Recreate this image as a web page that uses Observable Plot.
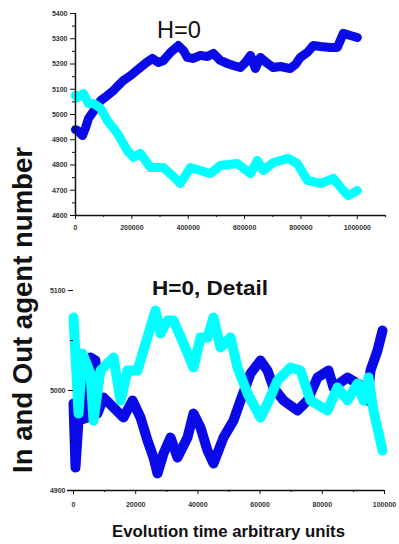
<!DOCTYPE html>
<html><head><meta charset="utf-8">
<script src="https://cdn.jsdelivr.net/npm/d3@7"></script>
<script src="https://cdn.jsdelivr.net/npm/@observablehq/plot@0.6"></script>
<style>
body{margin:0;background:#fff;font-family:"Liberation Sans",Arial,sans-serif}
#wrap{position:relative;width:399px;height:544px;overflow:hidden;background:#fff}
#wrap>*{position:absolute;left:0}
</style></head><body><div id="wrap"></div>
<script>
// ---- Top panel (H=0) ----
const topBlueT=[0,7000,25000,35000,46000,71000,89000,113000,135000,152000,170000,195000,230000,252000,273000,294000,312000,337000,365000,383000,397000,418000,443000,468000,489000,514000,539000,560000,585000,603000,621000,638000,656000,677000,702000,727000,762000,780000,798000,823000,844000,869000,904000,929000,950000,975000,1000000];
const topBlueV=[4940,4937,4917,4945,4984,5024,5055,5075,5095,5115,5135,5154,5186,5206,5222,5206,5214,5246,5273,5253,5226,5222,5234,5230,5242,5214,5202,5194,5186,5206,5234,5182,5226,5206,5186,5190,5182,5198,5226,5246,5273,5269,5265,5265,5321,5313,5305];
const topCyanT=[0,7000,28000,46000,64000,89000,113000,149000,184000,206000,230000,266000,312000,344000,372000,408000,443000,479000,514000,574000,621000,645000,667000,702000,755000,787000,823000,869000,915000,950000,968000,1000000];
const topCyanV=[5075,5067,5083,5044,5044,5024,4976,4925,4857,4830,4846,4790,4790,4758,4727,4790,4778,4766,4798,4806,4766,4818,4778,4810,4826,4806,4739,4727,4747,4699,4679,4699];
const topYTicks=[4600,4700,4800,4900,5000,5100,5200,5300,5400];
const topYMinor=[4650,4750,4850,4950,5050,5150,5250,5350];
const topXTicks=[0,200000,400000,600000,800000,1000000];
const topXMinor=[100000,300000,500000,700000,900000,1100000];

// ---- Bottom panel (H=0, Detail) ----
const detBlueT=[0,643,1608,4502,5466,7074,7717,9646,12862,16077,18971,21543,23794,25723,27010,28939,31190,33441,36656,38585,40836,43087,45016,48232,51447,53698,56913,60129,62379,64309,67524,72026,75241,78457,81994,83601,88103,91318,93248,94534,95498,97749,99357];
const detBlueV=[4987,4923,4970,4973,5033,5030,4977,4993,4983,4973,4990,4973,4950,4933,4917,4937,4953,4933,4953,4977,4963,4940,4927,4953,4970,4990,5017,5030,5020,5003,4990,4980,4990,5013,5020,5003,5013,5007,5003,4990,5020,5040,5060];
const detCyanT=[0,1608,2894,5466,6431,8682,12862,15113,17363,20578,22508,26367,27975,30225,32154,35370,38585,40836,43087,45016,47267,50482,52733,55949,60129,62379,65595,69775,72990,76206,81672,84887,88103,91318,93248,94855,96463,99357];
const detCyanV=[5073,4977,5037,5017,4970,5020,5033,4990,5020,5020,5040,5080,5057,5070,5070,5047,5023,5053,5053,5073,5043,5053,5023,4997,4973,4987,5010,5023,5020,4990,4980,5003,4990,5007,4990,5013,4980,4940];
const detYTicks=[4900,5000,5100];
const detYMinor=[4950,5050];
const detXTicks=[0,20000,40000,60000,80000,100000];
const detXMinor=[10000,30000,50000,70000,90000];

const BLUE="#0a0ae8", CYAN="#00ffff", TXT="#333";
const rows=(T,V)=>T.map((t,i)=>({t,v:V[i]}));
const fmt=d=>String(d);

const wrap=document.getElementById("wrap");

const topPlot=Plot.plot({
  width:399,height:235,marginLeft:75,marginRight:14,marginTop:13,marginBottom:20,
  style:{background:"transparent",fontFamily:"Liberation Sans, Arial, sans-serif"},
  x:{domain:[0,1100000]},
  y:{domain:[4600,5400]},
  marks:[
    Plot.line(rows(topBlueT,topBlueV),{x:"t",y:"v",stroke:BLUE,strokeWidth:9,strokeLinejoin:"round"}),
    Plot.line(rows(topCyanT,topCyanV),{x:"t",y:"v",stroke:CYAN,strokeWidth:9,strokeLinejoin:"round"}),
    Plot.ruleX([0],{stroke:"#111",strokeWidth:1.5}),
    Plot.ruleY([4600],{stroke:"#111",strokeWidth:1.5}),
    Plot.axisY({ticks:topYTicks,tickSize:5,tickPadding:3,tickFormat:fmt,fontSize:7,fontWeight:"bold",fill:TXT,stroke:"#111",label:null}),
    Plot.axisY({ticks:topYMinor,tickSize:3,tickFormat:()=>"",stroke:"#111",label:null}),
    Plot.axisX({ticks:topXTicks,tickSize:4,tickPadding:6,tickFormat:fmt,fontSize:7,fontWeight:"bold",fill:TXT,stroke:"#111",label:null}),
    Plot.axisX({ticks:topXMinor,tickSize:2,tickFormat:()=>"",stroke:"#111",label:null})
  ]
});
topPlot.style.top="0px";
wrap.appendChild(topPlot);

const detPlot=Plot.plot({
  width:399,height:260,marginLeft:73,marginRight:15,marginTop:30,marginBottom:30,
  style:{background:"transparent",fontFamily:"Liberation Sans, Arial, sans-serif"},
  x:{domain:[0,100000]},
  y:{domain:[4900,5100]},
  marks:[
    Plot.line(rows(detBlueT,detBlueV),{x:"t",y:"v",stroke:BLUE,strokeWidth:10,strokeLinejoin:"round"}),
    Plot.line(rows(detCyanT,detCyanV),{x:"t",y:"v",stroke:CYAN,strokeWidth:10,strokeLinejoin:"round"}),
    Plot.ruleY([4900],{stroke:"#111",strokeWidth:1.5,insetLeft:-6}),
    Plot.axisY({ticks:detYTicks,tickSize:5,tickPadding:3,tickFormat:fmt,fontSize:7,fontWeight:"bold",fill:TXT,stroke:"#111",label:null}),
    Plot.axisY({ticks:detYMinor,tickSize:3,tickFormat:()=>"",stroke:"#111",label:null}),
    Plot.axisX({ticks:detXTicks,tickSize:4,tickPadding:8,tickFormat:fmt,fontSize:7,fontWeight:"bold",fill:TXT,stroke:"#111",label:null}),
    Plot.axisX({ticks:detXMinor,tickSize:2,tickFormat:()=>"",stroke:"#111",label:null})
  ]
});
detPlot.style.top="260px";
wrap.appendChild(detPlot);

// overlay texts
const NS="http://www.w3.org/2000/svg";
const ov=document.createElementNS(NS,"svg");
ov.setAttribute("width",399);ov.setAttribute("height",544);
ov.style.top="0px";ov.style.pointerEvents="none";
function txt(s,attrs){
  const t=document.createElementNS(NS,"text");
  for(const k in attrs)t.setAttribute(k,attrs[k]);
  t.textContent=s;ov.appendChild(t);return t;
}
const ff="Liberation Sans, Arial, sans-serif";
txt("H=0",{x:157,y:38,"font-family":ff,"font-size":24,fill:"#111",textLength:44,lengthAdjust:"spacingAndGlyphs"});
txt("H=0, Detail",{x:152,y:295,"font-family":ff,"font-size":21,"font-weight":"bold",fill:"#111",textLength:116,lengthAdjust:"spacingAndGlyphs"});
txt("Evolution time arbitrary units",{x:112,y:537,"font-family":ff,"font-size":16.5,"font-weight":"bold",fill:"#111",textLength:233,lengthAdjust:"spacingAndGlyphs"});
txt("In and Out agent number",{x:0,y:0,"font-family":ff,"font-size":27,"font-weight":"bold",fill:"#111","text-anchor":"middle",textLength:326,lengthAdjust:"spacingAndGlyphs",transform:"translate(32,310) rotate(-90)"});
wrap.appendChild(ov);
</script></body></html>
